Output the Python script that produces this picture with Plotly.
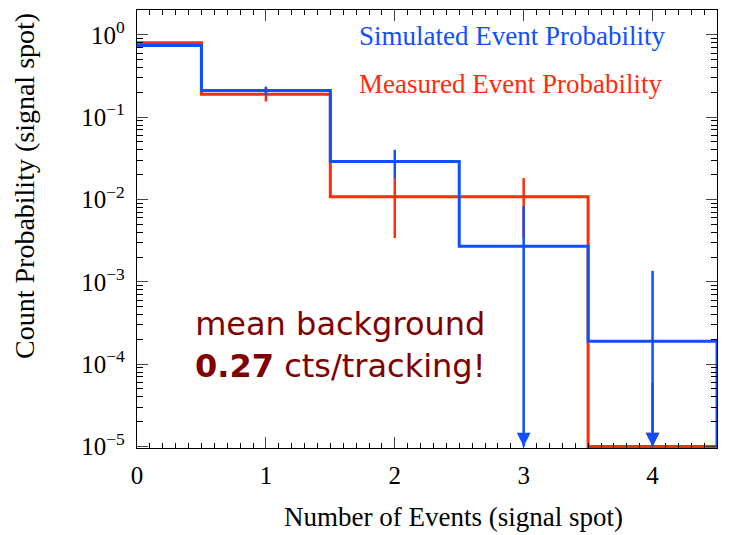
import math
import plotly.graph_objects as go

# ---- data ----
counts = [0, 1, 2, 3, 4]
sim_prob = [0.74, 0.21, 0.029, 0.0027, 0.00019]
sim_err = [0.03, 0.025, 0.011, 0.0056, 0.00117]
meas_prob = [0.80, 0.19, 0.0108, 0.0108, 0.0]
meas_err = [0.03, 0.035, 0.0074, 0.0074, 0.00006]
y_tick_vals = [1e-5, 1e-4, 1e-3, 1e-2, 1e-1, 1e0]
y_tick_text = ["10<sup>−5</sup>", "10<sup>−4</sup>", "10<sup>−3</sup>",
               "10<sup>−2</sup>", "10<sup>−1</sup>", "10<sup>0</sup>"]
x_tick_vals = [0, 1, 2, 3, 4]
sim_label = "Simulated Event Probability"
meas_label = "Measured Event Probability"
note_text = "mean background<br><b>0.27</b> cts/tracking!"
x_title = "Number of Events (signal spot)"
y_title = "Count Probability (signal spot)"

Y_FLOOR = 1e-5
BLUE = "#0F4FFF"
RED = "#FF2B0E"
DARKRED = "#800000"
SERIF = "Liberation Serif"

fig = go.Figure()


def step_xy(centers, probs):
    xs = [c - 0.5 for c in centers] + [centers[-1] + 0.5]
    ys = [max(p, Y_FLOOR) for p in probs] + [Y_FLOOR]
    return xs, ys


def err_xy(centers, probs, errs):
    xs, ys, arrows = [], [], []
    for c, p, e in zip(centers, probs, errs):
        lo = p - e
        xs += [c, c, None]
        ys += [max(lo, Y_FLOOR), p + e, None]
        if lo <= Y_FLOOR:
            arrows.append(c)
    return xs, ys, arrows


annotations = []
for probs, errs, col in [(meas_prob, meas_err, RED), (sim_prob, sim_err, BLUE)]:
    sx, sy = step_xy(counts, probs)
    fig.add_trace(go.Scatter(x=sx, y=sy, mode="lines", line=dict(color=col, width=3, shape="hv"),
                             showlegend=False, hoverinfo="skip"))
    ex, ey, arr = err_xy(counts, probs, errs)
    fig.add_trace(go.Scatter(x=ex, y=ey, mode="lines", line=dict(color=col, width=2.5),
                             showlegend=False, hoverinfo="skip"))
    for c in arr:
        annotations.append(dict(x=c, y=math.log10(Y_FLOOR), xref="x", yref="y", text="",
                                showarrow=True, ax=0, ay=-12, arrowhead=2, arrowsize=1.1,
                                arrowwidth=2.5, arrowcolor=col))

annotations += [
    dict(x=0.379, y=0.94, xref="paper", yref="paper", xanchor="left", yanchor="middle",
         text=sim_label, showarrow=False, font=dict(family=SERIF, size=27, color=BLUE)),
    dict(x=0.379, y=0.83, xref="paper", yref="paper", xanchor="left", yanchor="middle",
         text=meas_label, showarrow=False, font=dict(family=SERIF, size=27, color=RED)),
    dict(x=0.35, y=0.235, xref="paper", yref="paper", xanchor="center", yanchor="middle",
         text=note_text, showarrow=False, font=dict(family="DejaVu Sans", size=32, color=DARKRED)),
    dict(x=0.545, y=-0.158, xref="paper", yref="paper", xanchor="center", yanchor="middle",
         text=x_title, showarrow=False, font=dict(family=SERIF, size=27, color="black")),
    dict(x=-0.195, y=0.598, xref="paper", yref="paper", xanchor="center", yanchor="middle",
         text=y_title, textangle=-90, showarrow=False,
         font=dict(family=SERIF, size=28, color="black")),
]

minor_y = [m * 10 ** d for d in range(-5, 1) for m in range(2, 10)]

# page body has an 8px default margin, so the figure is sized to fit inside the window
fig.update_layout(
    width=723, height=527,
    margin=dict(l=129, r=14, t=2, b=87),
    paper_bgcolor="white", plot_bgcolor="white",
    font=dict(family=SERIF, size=25, color="black"),
    annotations=annotations,
    xaxis=dict(
        range=[0, 4.5], tickvals=x_tick_vals, ticks="inside", ticklen=11, tickwidth=1.2,
        showline=True, linecolor="black", linewidth=1.3, mirror="ticks", showgrid=False,
        zeroline=False, tickfont=dict(size=25), ticklabelstandoff=5, automargin=False,
        minor=dict(dtick=0.1, ticks="inside", ticklen=5, tickwidth=1, tickcolor="black"),
    ),
    yaxis=dict(
        type="log", range=[-5.018, 0.301], tickmode="array", tickvals=y_tick_vals,
        ticktext=y_tick_text, ticks="inside", ticklen=11, tickwidth=1.2,
        showline=True, linecolor="black", linewidth=1.3, mirror="ticks", showgrid=False,
        zeroline=False, tickfont=dict(size=25), ticklabelstandoff=6, automargin=False,
        minor=dict(tickmode="array", tickvals=minor_y, ticks="inside", ticklen=6,
                   tickwidth=1, tickcolor="black"),
    ),
)

fig.write_html("out.html")
